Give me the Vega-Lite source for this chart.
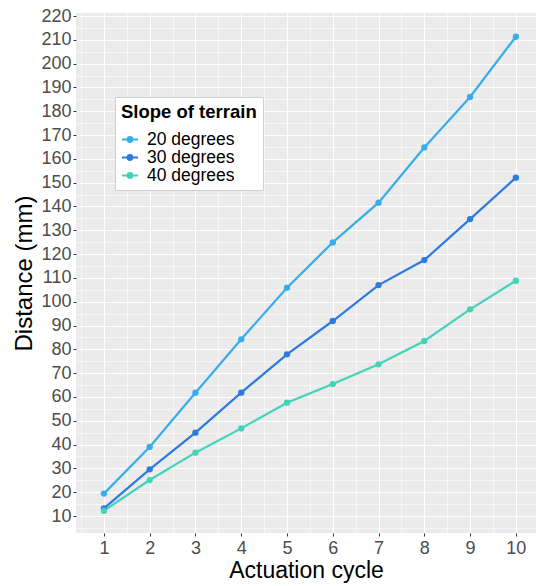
{
  "$schema": "https://vega.github.io/schema/vega-lite/v6.json",
  "width": 460,
  "height": 520,
  "autosize": {"type": "none"},
  "padding": {"left": 76, "top": 13, "right": 0, "bottom": 53},
  "background": "white",
  "config": {
    "view": {"fill": "#EBEBEB", "stroke": null},
    "font": "Liberation Sans",
    "axis": {"gridColor": "white", "domain": false, "tickColor": "#333333", "tickSize": 3, "labelColor": "#4D4D4D", "titleColor": "black", "titleFontWeight": "normal", "labelFontSize": 18, "titleFontSize": 23}
  },
  "data": {
    "values": [
      {"cycle": 1, "distance": 19.4, "slope": "20 degrees"},
      {"cycle": 2, "distance": 39.0, "slope": "20 degrees"},
      {"cycle": 3, "distance": 61.8, "slope": "20 degrees"},
      {"cycle": 4, "distance": 84.2, "slope": "20 degrees"},
      {"cycle": 5, "distance": 105.9, "slope": "20 degrees"},
      {"cycle": 6, "distance": 124.9, "slope": "20 degrees"},
      {"cycle": 7, "distance": 141.6, "slope": "20 degrees"},
      {"cycle": 8, "distance": 164.8, "slope": "20 degrees"},
      {"cycle": 9, "distance": 186.0, "slope": "20 degrees"},
      {"cycle": 10, "distance": 211.3, "slope": "20 degrees"},
      {"cycle": 1, "distance": 13.2, "slope": "30 degrees"},
      {"cycle": 2, "distance": 29.6, "slope": "30 degrees"},
      {"cycle": 3, "distance": 45.0, "slope": "30 degrees"},
      {"cycle": 4, "distance": 61.8, "slope": "30 degrees"},
      {"cycle": 5, "distance": 77.9, "slope": "30 degrees"},
      {"cycle": 6, "distance": 91.9, "slope": "30 degrees"},
      {"cycle": 7, "distance": 107.0, "slope": "30 degrees"},
      {"cycle": 8, "distance": 117.5, "slope": "30 degrees"},
      {"cycle": 9, "distance": 134.7, "slope": "30 degrees"},
      {"cycle": 10, "distance": 152.1, "slope": "30 degrees"},
      {"cycle": 1, "distance": 12.2, "slope": "40 degrees"},
      {"cycle": 2, "distance": 25.1, "slope": "40 degrees"},
      {"cycle": 3, "distance": 36.6, "slope": "40 degrees"},
      {"cycle": 4, "distance": 46.8, "slope": "40 degrees"},
      {"cycle": 5, "distance": 57.6, "slope": "40 degrees"},
      {"cycle": 6, "distance": 65.4, "slope": "40 degrees"},
      {"cycle": 7, "distance": 73.7, "slope": "40 degrees"},
      {"cycle": 8, "distance": 83.5, "slope": "40 degrees"},
      {"cycle": 9, "distance": 96.8, "slope": "40 degrees"},
      {"cycle": 10, "distance": 108.8, "slope": "40 degrees"}
    ]
  },
  "layer": [
    {
      "mark": {"type": "line", "strokeWidth": 2.2},
      "encoding": {
        "x": {"field": "cycle", "type": "quantitative", "scale": {"domain": [0.39, 10.44], "nice": false, "zero": false},
          "axis": {"orient": "bottom", "values": [0.5, 1.5, 2.5, 3.5, 4.5, 5.5, 6.5, 7.5, 8.5, 9.5], "grid": true, "gridWidth": 0.55, "labels": false, "ticks": false, "title": null}},
        "y": {"field": "distance", "type": "quantitative", "scale": {"domain": [2.86, 221.26], "nice": false, "zero": false},
          "axis": {"orient": "left", "values": [5, 15, 25, 35, 45, 55, 65, 75, 85, 95, 105, 115, 125, 135, 145, 155, 165, 175, 185, 195, 205, 215], "grid": true, "gridWidth": 0.55, "labels": false, "ticks": false, "title": null}},
        "color": {"field": "slope", "type": "nominal",
          "scale": {"domain": ["20 degrees", "30 degrees", "40 degrees"], "range": ["#37AEEB", "#2D7BDF", "#43D4B8"]},
          "legend": {"title": "Slope of terrain", "orient": "none", "legendX": 39, "legendY": 84,
            "fillColor": "white", "strokeColor": "#D0D0D0", "padding": 6,
            "titleFontSize": 18.5, "titleFontWeight": "bold", "titleColor": "black", "titlePadding": 9,
            "labelFontSize": 17.5, "labelColor": "black", "labelOffset": 8,
            "symbolType": "M-1,0H1M-0.3,0a0.3,0.3 0 1,0 0.6,0a0.3,0.3 0 1,0 -0.6,0",
            "symbolSize": 256, "symbolStrokeWidth": 2, "rowPadding": 0, "labelLimit": 200,
            "encode": {"symbols": {"update": {"fill": {"scale": "color", "field": "value"}}}, "labels": {"update": {"fontSize": {"value": 17.5}}}}}}
      }
    },
    {
      "mark": {"type": "point", "filled": true, "size": 40, "opacity": 1},
      "encoding": {
        "x": {"field": "cycle", "type": "quantitative", "scale": {"domain": [0.39, 10.44], "nice": false, "zero": false},
          "axis": {"orient": "bottom", "values": [1, 2, 3, 4, 5, 6, 7, 8, 9, 10], "grid": true, "gridWidth": 1.1, "title": "Actuation cycle", "labelPadding": 3, "titlePadding": 2}},
        "y": {"field": "distance", "type": "quantitative", "scale": {"domain": [2.86, 221.26], "nice": false, "zero": false},
          "axis": {"orient": "left", "values": [10, 20, 30, 40, 50, 60, 70, 80, 90, 100, 110, 120, 130, 140, 150, 160, 170, 180, 190, 200, 210, 220], "grid": true, "gridWidth": 1.1, "title": "Distance (mm)", "titleFontSize": 24, "labelPadding": 2, "titlePadding": 4}},
        "color": {"field": "slope", "type": "nominal",
          "scale": {"domain": ["20 degrees", "30 degrees", "40 degrees"], "range": ["#37AEEB", "#2D7BDF", "#43D4B8"]},
          "legend": {"title": "Slope of terrain", "orient": "none", "legendX": 39, "legendY": 84,
            "fillColor": "white", "strokeColor": "#D0D0D0", "padding": 6,
            "titleFontSize": 18.5, "titleFontWeight": "bold", "titleColor": "black", "titlePadding": 9,
            "labelFontSize": 17.5, "labelColor": "black", "labelOffset": 8,
            "symbolType": "M-1,0H1M-0.3,0a0.3,0.3 0 1,0 0.6,0a0.3,0.3 0 1,0 -0.6,0",
            "symbolSize": 256, "symbolStrokeWidth": 2, "rowPadding": 0, "labelLimit": 200,
            "encode": {"symbols": {"update": {"fill": {"scale": "color", "field": "value"}}}, "labels": {"update": {"fontSize": {"value": 17.5}}}}}}
      }
    }
  ],
  "resolve": {"axis": {"x": "independent", "y": "independent"}}
}
